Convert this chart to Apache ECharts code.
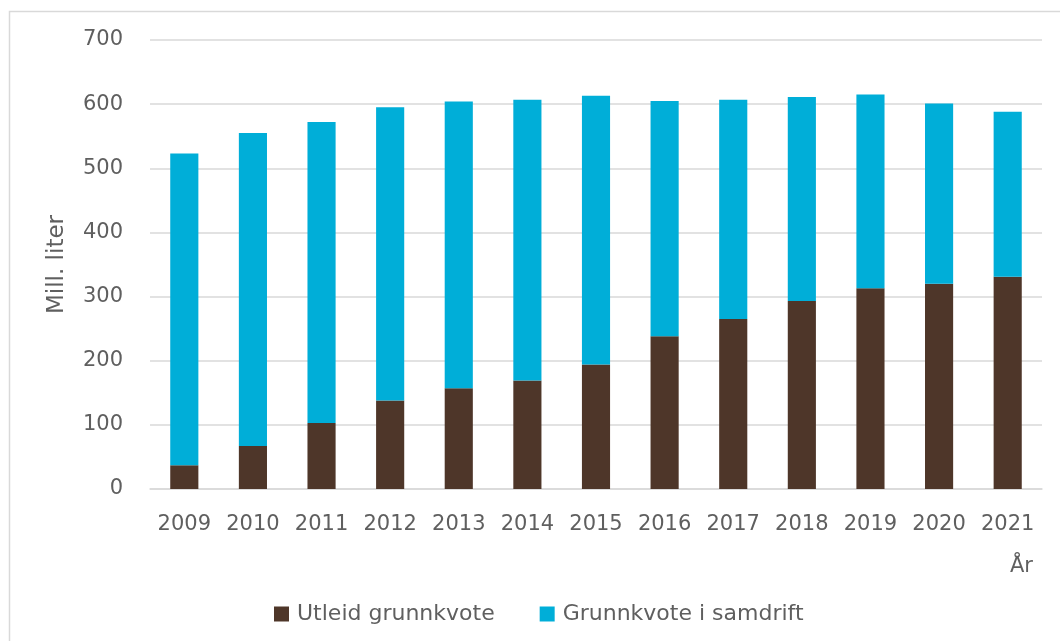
<!DOCTYPE html>
<html>
<head>
    <meta charset="utf-8">
    <title>Grunnkvote</title>
    <script src="https://cdn.jsdelivr.net/npm/echarts@6/dist/echarts.min.js"></script>
    <style>
        html, body { margin: 0; padding: 0; background: #fff; }
    </style>
</head>
<body>
    <div id="main" style="width: 1060px; height: 641px;"></div>

    <script type="text/javascript">
        // data
        var years = ['2009', '2010', '2011', '2012', '2013', '2014', '2015', '2016', '2017', '2018', '2019', '2020', '2021'];
        var utleid = [37, 67, 103, 138, 157, 169, 194, 238, 265, 293, 313, 320, 331];
        var total = [523, 555, 572, 595, 604, 607, 613, 605, 607, 611, 615, 601, 588];
        var yTicks = [0, 100, 200, 300, 400, 500, 600, 700];

        // blue part = total minus the brown part
        var samdrift = total.map(function (t, i) { return t - utleid[i]; });

        var myChart = echarts.init(document.getElementById('main'));

        var textColor = '#5f5f5f';
        var font = '"DejaVu Sans", sans-serif';

        var option = {
            animation: false,
            backgroundColor: '#fff',
            graphic: [{
                type: 'rect',
                shape: { x: 9.5, y: 11.5, width: 1200, height: 800 },
                style: { fill: 'none', stroke: '#d9d9d9', lineWidth: 1.5 },
                silent: true
            }],
            grid: {
                left: 150,
                right: 18,
                top: 40,
                bottom: 152
            },
            legend: {
                left: 269,
                top: 598,
                itemWidth: 15,
                itemHeight: 15,
                itemGap: 45,
                icon: 'rect',
                textStyle: { color: textColor, fontSize: 22, fontFamily: font, padding: [0, 0, 0, 3] },
                data: ['Utleid grunnkvote', 'Grunnkvote i samdrift']
            },
            xAxis: {
                type: 'category',
                data: years,
                axisLine: { lineStyle: { color: '#d9d9d9', width: 1.5 } },
                axisTick: { show: false },
                axisLabel: { color: textColor, fontSize: 21, fontFamily: font, margin: 25, interval: 0 },
                name: 'År',
                nameLocation: 'end',
                nameGap: -9,
                nameTextStyle: {
                    color: textColor, fontSize: 21, fontFamily: font,
                    align: 'right', verticalAlign: 'top', padding: [67, 0, 0, 0]
                }
            },
            yAxis: {
                type: 'value',
                min: yTicks[0],
                max: yTicks[yTicks.length - 1],
                interval: 100,
                axisLine: { show: false },
                axisTick: { show: false },
                splitLine: { lineStyle: { color: '#d9d9d9', width: 1.5 } },
                axisLabel: { color: textColor, fontSize: 21, fontFamily: font, margin: 27 },
                name: 'Mill. liter',
                nameLocation: 'middle',
                nameGap: 81,
                nameTextStyle: { color: textColor, fontSize: 23, fontFamily: font }
            },
            series: [
                {
                    name: 'Utleid grunnkvote',
                    type: 'bar',
                    stack: 'kvote',
                    barWidth: '41%',
                    itemStyle: { color: '#4e3629' },
                    data: utleid
                },
                {
                    name: 'Grunnkvote i samdrift',
                    type: 'bar',
                    stack: 'kvote',
                    barWidth: '41%',
                    itemStyle: { color: '#00aed8' },
                    data: samdrift
                }
            ]
        };

        myChart.setOption(option);
    </script>
</body>
</html>
